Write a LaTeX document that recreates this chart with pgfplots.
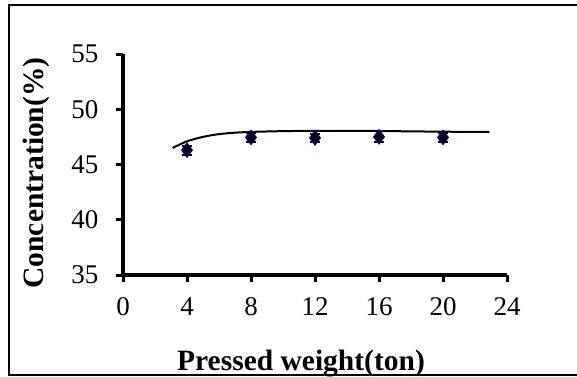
\documentclass[border=0pt]{standalone}
\usepackage{pgfplots}
\pgfplotsset{compat=1.18}
\usepackage{fontspec}
\setmainfont{Liberation Serif}
\newcommand{\tlfont}{\fontsize{27}{31}\selectfont}
\begin{document}
\begin{tikzpicture}[x=1pt,y=1pt]
\useasboundingbox (-123,-101) rectangle (454,275);
\draw[line width=2pt] (454,270) -- (-114,270) -- (-114,-100) -- (454,-100);
\begin{axis}[
  at={(0,0)}, anchor=origin,
  scale only axis, width=384pt, height=221pt,
  xmin=0, xmax=24, ymin=35, ymax=55,
  xtick={0,4,...,24}, ytick={35,40,...,55},
  xticklabels={0,4,8,12,16,20,24},
  yticklabels={35,40,45,50,55},
  axis x line=bottom, axis y line=left,
  axis line style={-, line width=3.5pt, black},
  tick align=outside, major tick length=7pt,
  tick style={line width=3pt, black},
  xticklabel style={font=\tlfont, yshift=-12pt},
  yticklabel style={font=\tlfont, xshift=-14pt},
  xlabel={\textbf{Pressed weight(ton)}},
  ylabel={\textbf{Concentration(\%)}},
  label style={font=\fontsize{29.5}{34}\selectfont},
  xlabel style={at={(axis description cs:0.5,0)}, anchor=base, yshift=-95pt, xshift=-14pt},
  ylabel style={at={(axis description cs:-0.2266,0.4615)}, anchor=center},
  clip=false,
]
\addplot[black, line width=2pt, smooth, tension=0.5] coordinates {
 (3.1,46.5) (4,47.1) (5,47.5) (6,47.75) (7,47.88) (8,47.95) (10,48.02) (12,48.05) (14,48.05) (16,48.03) (18,48.0) (20,47.97) (22,47.95) (22.9,47.94)
};
\addplot[only marks, mark=diamond*, mark size=7pt,
  mark options={fill=black, draw={rgb,255:red,0;green,0;blue,128}, line width=1.2pt},
  error bars/.cd, y dir=both, y explicit,
  error bar style={black, line width=2pt},
  error mark options={black, line width=2pt, mark size=5pt, rotate=90}]
 coordinates {
 (4,46.3) +- (0,0.4)
 (8,47.45) +- (0,0.4)
 (12,47.4) +- (0,0.4)
 (16,47.5) +- (0,0.5)
 (20,47.45) +- (0,0.4)
};
\end{axis}
\end{tikzpicture}
\end{document}
